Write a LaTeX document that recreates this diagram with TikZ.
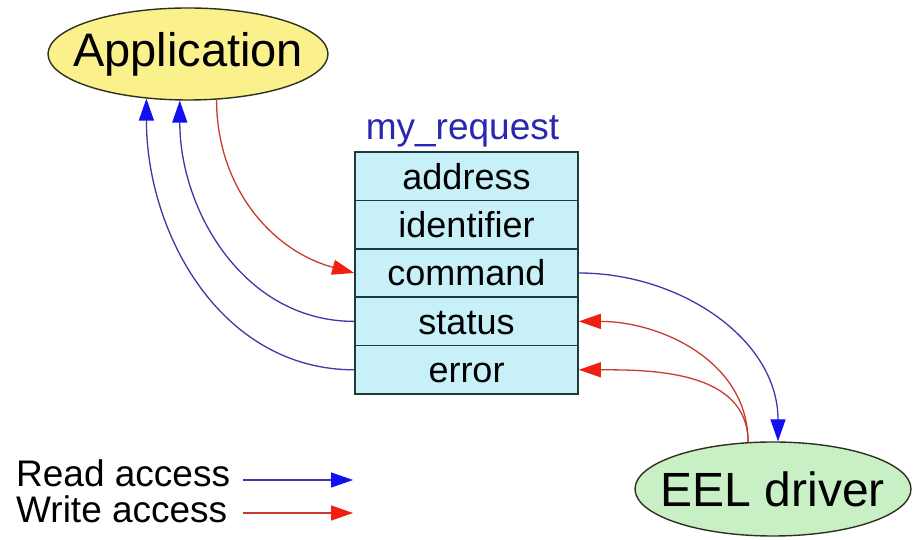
\documentclass[tikz,border=0pt]{standalone}
\usepackage{fontspec}
\setmainfont{Liberation Sans}
\usetikzlibrary{arrows.meta,shapes.geometric}
\definecolor{appfill}{HTML}{FAF08C}
\definecolor{eelfill}{HTML}{C8F0C4}
\definecolor{rowfill}{HTML}{C8F0F8}
\definecolor{rowline}{HTML}{1E3A3A}
\definecolor{ovalline}{HTML}{303020}
\definecolor{readline}{HTML}{3A3AA8}
\definecolor{readtip}{HTML}{1010F0}
\definecolor{writeline}{HTML}{C83C30}
\definecolor{writetip}{HTML}{F02010}
\definecolor{titleblue}{HTML}{2828B0}
\begin{document}
\begin{tikzpicture}[x=1pt,y=1pt,
  oval/.style={ellipse, draw=ovalline, line width=1.4pt, inner sep=0pt},
  rowbox/.style={rectangle, draw=rowline, line width=1.6pt, fill=rowfill,
    minimum width=223pt, minimum height=48.4pt, inner sep=0pt,
    font=\fontsize{36}{36}\selectfont, text height=25.8pt, text depth=0pt},
  readarrow/.style={draw=readline, line width=1.3pt,
    -{Triangle[length=22pt,width=15pt,color=readtip]}},
  writearrow/.style={draw=writeline, line width=1.3pt,
    -{Triangle[length=22pt,width=15pt,color=writetip]}},
  legendtext/.style={anchor=base west, inner sep=0pt, font=\fontsize{37}{37}\selectfont}]

  % canvas
  \fill[white] (0,0) rectangle (913,540);
  \useasboundingbox (0,0) rectangle (913,540);

  % the two parties (names set as centred labels so the ovals keep their size)
  \node[oval, fill=appfill, minimum width=280pt, minimum height=92pt,
        label={[font=\fontsize{47}{47}\selectfont, inner sep=0pt]center:Application}]
        (app) at (188,486) {};
  \node[oval, fill=eelfill, minimum width=276pt, minimum height=94pt,
        label={[font=\fontsize{48}{48}\selectfont, inner sep=0pt]center:EEL driver}]
        (eel) at (773,51) {};

  % request structure
  \node[anchor=base, inner sep=0pt, text=titleblue,
        font=\fontsize{37}{37}\selectfont] (title) at (462.5,400) {my\_request};
  \node[rowbox] (address)    at (466.5,363.8) {address};
  \node[rowbox] (identifier) at (466.5,315.4) {identifier};
  \node[rowbox] (command)    at (466.5,267.0) {command};
  \node[rowbox] (status)     at (466.5,218.6) {status};
  \node[rowbox] (error)      at (466.5,170.2) {error};

  % accesses by the application
  \draw[readarrow] (status.west) to[out=180,in=-90] (app.260);
  \draw[readarrow] (error.west) to[out=180,in=-90] (app.227);
  \draw[writearrow] (app.302) to[out=-90,in=165] (command.west);

  % accesses by the driver
  \draw[readarrow] (command.east) to[out=0,in=90] (eel.84);
  \draw[writearrow] (eel.118) to[out=90,in=0] (status.east);
  \draw[writearrow] (eel.118) to[out=90,in=0] (error.east);

  % legend
  \node[legendtext] (readlbl) at (16,53) {Read access};
  \node[legendtext] (writelbl) at (16,17) {Write access};
  \coordinate (r0) at (243,60);
  \coordinate (r1) at (353,60);
  \coordinate (w0) at (243,27);
  \coordinate (w1) at (353,27);
  \draw[readarrow] (r0) -- (r1);
  \draw[writearrow] (w0) -- (w1);
\end{tikzpicture}
\end{document}
